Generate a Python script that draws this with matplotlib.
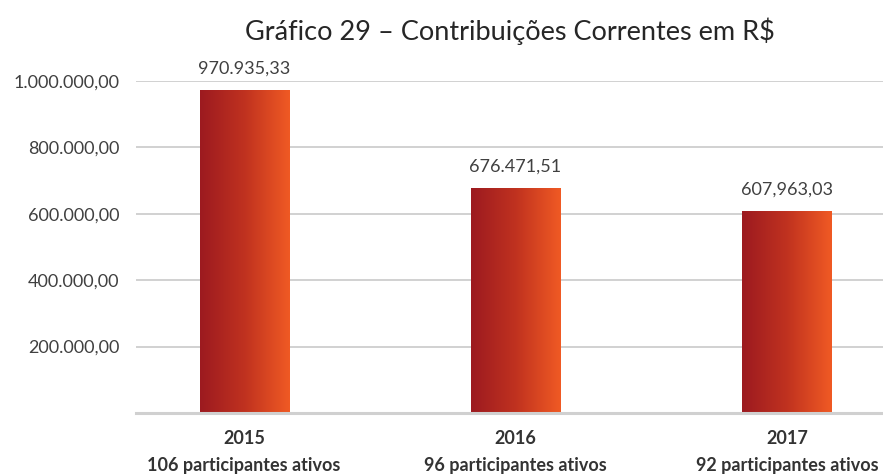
import numpy as np
import matplotlib
matplotlib.use("Agg")
import matplotlib.pyplot as plt
import matplotlib.transforms as mtransforms
from matplotlib.colors import LinearSegmentedColormap

# Data
years = ["2015", "2016", "2017"]
participants = ["106 participantes ativos", "96 participantes ativos", "92 participantes ativos"]
values = [970935.33, 676471.51, 607963.03]
value_labels = ["970.935,33", "676.471,51", "607,963,03"]
yticks = [200000, 400000, 600000, 800000, 1000000]
ytick_labels = ["200.000,00", "400.000,00", "600.000,00", "800.000,00", "1.000.000,00"]
title = "Gráfico 29 – Contribuições Correntes em R$"

plt.rcParams["font.family"] = ["Lato", "DejaVu Sans"]

fig = plt.figure(figsize=(8.83, 4.75), dpi=100)
ax = fig.add_axes([136 / 883, 1 - 413 / 475, 1 - 136 / 883, (413 - 81) / 475])

grad = LinearSegmentedColormap.from_list("bar", ["#9c1a20", "#c0321f", "#f05a24"])
gradient = np.linspace(0, 1, 256).reshape(1, -1)

bar_w = 0.328
x = np.arange(len(years))
for xi, v, lab in zip(x, values, value_labels):
    ax.imshow(gradient, cmap=grad, aspect="auto",
              extent=[xi - bar_w / 2, xi + bar_w / 2, 0, v], zorder=3)
    ax.annotate(lab, (xi, v), xytext=(0, 10), textcoords="offset points",
                ha="center", va="bottom", fontsize=13, color="#404040",
                annotation_clip=False)

ax.set_xlim(-0.398, 2.354)
ax.set_ylim(0, 1000000)

ax.set_yticks(yticks)
ax.set_yticklabels(ytick_labels, fontsize=13, color="#404040")
ax.yaxis.grid(True, color="#c9c9c9", linewidth=1.2, zorder=0)
ax.tick_params(axis="y", length=0, pad=12)
ax.axhline(0, color="#d0d0d0", linewidth=2.2, zorder=4, clip_on=False)

# category labels: year on top, number of active participants below
ax.set_xticks(x)
ax.set_xticklabels([])
ax.tick_params(axis="x", length=0)
trans = mtransforms.blended_transform_factory(ax.transData, fig.transFigure)
for xi, yr, part in zip(x, years, participants):
    ax.text(xi, 1 - 438 / 475, yr, transform=trans, ha="center", va="center",
            fontsize=13, fontweight="bold", color="#333333")
    ax.text(xi, 1 - 465 / 475, part, transform=trans, ha="center", va="center",
            fontsize=13, fontweight="bold", color="#333333")

for s in ax.spines.values():
    s.set_visible(False)

fig.text((136 + 883) / 2 / 883, 1 - 31 / 475, title, ha="center", va="center",
         fontsize=19.5, color="#262626")

fig.savefig("out.png", dpi=100)
